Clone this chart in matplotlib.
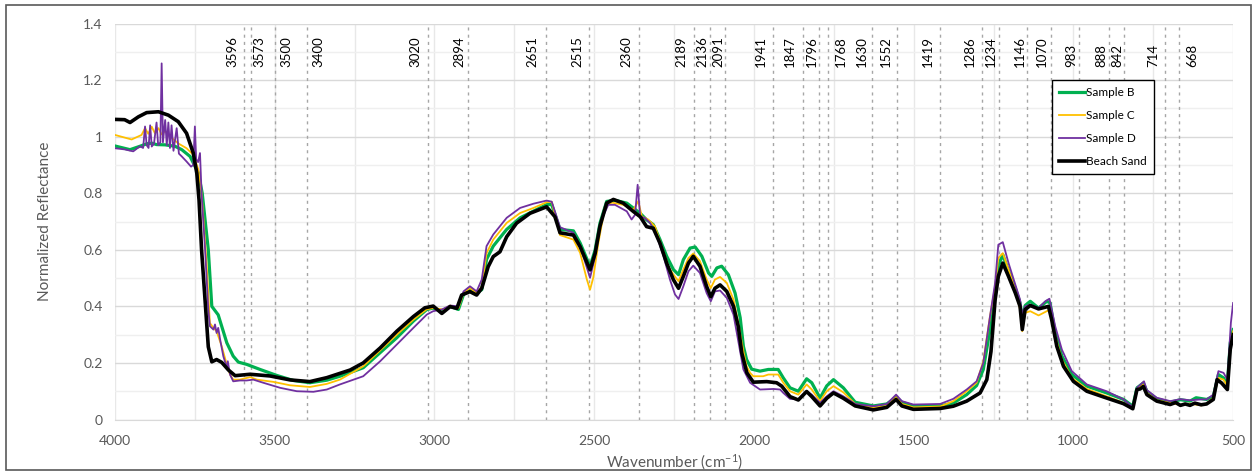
import matplotlib
matplotlib.use("Agg")
import matplotlib.pyplot as plt
from matplotlib.patches import Rectangle
from matplotlib.ticker import MultipleLocator, FuncFormatter

plt.rcParams["font.family"] = ["Lato", "DejaVu Sans"]
plt.rcParams["mathtext.fontset"] = "custom"
plt.rcParams["mathtext.rm"] = "Lato"
plt.rcParams["mathtext.default"] = "regular"

# ---- data ----
peak_marks = [3596, 3573, 3500, 3400, 3020, 2894, 2651, 2515, 2360, 2189, 2136,
              2091, 1941, 1847, 1796, 1768, 1630, 1552, 1419, 1286, 1234, 1146,
              1070, 983, 888, 842, 714, 668]
# where each label sits relative to its guide line (pixels, + = right)
label_shift = [-11.5, 7.6, 11.8, 11.9, -13, -9.3, -13.2, -11.7, -12.2, -12.5, -8.4,
               -6.5, -11.7, -12.7, -7.3, 12.8, -10.4, -11, -12.1, -11.9, -7.5, -7.3,
               -9.2, -8, -7.4, -6.4, -11.3, 12.4]

wn_b = [4000, 3953, 3922, 3900, 3885, 3870, 3843, 3812, 3791, 3765, 3739, 3727,
        3718, 3708, 3697, 3677, 3666, 3650, 3630, 3614, 3588, 3546, 3494, 3442,
        3390, 3337, 3296, 3223, 3118, 3066, 3024, 3004, 2977, 2951, 2925, 2909,
        2889, 2868, 2852, 2837, 2816, 2774, 2732, 2690, 2649, 2633, 2607, 2565,
        2544, 2513, 2497, 2482, 2461, 2435, 2398, 2356, 2336, 2315, 2294, 2273,
        2252, 2236, 2221, 2200, 2184, 2163, 2142, 2132, 2116, 2101, 2080, 2059,
        2043, 2033, 2023, 2007, 1981, 1955, 1924, 1908, 1887, 1861, 1835, 1819,
        1793, 1772, 1751, 1720, 1683, 1626, 1584, 1555, 1537, 1501, 1417, 1376,
        1334, 1303, 1282, 1261, 1245, 1235, 1221, 1203, 1182, 1167, 1160, 1151,
        1135, 1109, 1083, 1073, 1057, 1036, 1005, 958, 896, 843, 814, 801, 781,
        770, 739, 697, 665, 635, 616, 583, 562, 546, 530, 518, 509, 500]
sample_b = [0.967, 0.954, 0.966, 0.975, 0.977, 0.972, 0.971, 0.966, 0.954, 0.93,
            0.871, 0.8, 0.706, 0.6, 0.4, 0.37, 0.33, 0.271, 0.224, 0.203, 0.195,
            0.177, 0.156, 0.138, 0.13, 0.139, 0.153, 0.183, 0.289, 0.348, 0.389,
            0.394, 0.383, 0.4, 0.389, 0.442, 0.459, 0.447, 0.459, 0.566, 0.613,
            0.672, 0.713, 0.737, 0.76, 0.76, 0.672, 0.667, 0.624, 0.541, 0.6,
            0.694, 0.771, 0.775, 0.765, 0.729, 0.706, 0.689, 0.636, 0.577, 0.53,
            0.512, 0.565, 0.606, 0.61, 0.577, 0.518, 0.506, 0.536, 0.542, 0.512,
            0.447, 0.36, 0.259, 0.212, 0.178, 0.171, 0.177, 0.177, 0.147, 0.112,
            0.1, 0.144, 0.13, 0.076, 0.119, 0.141, 0.112, 0.061, 0.048, 0.055,
            0.079, 0.061, 0.048, 0.048, 0.058, 0.088, 0.12, 0.177, 0.318, 0.447,
            0.542, 0.583, 0.524, 0.465, 0.412, 0.353, 0.403, 0.418, 0.394, 0.418,
            0.412, 0.306, 0.224, 0.159, 0.118, 0.094, 0.071, 0.047, 0.112, 0.129,
            0.1, 0.073, 0.061, 0.07, 0.065, 0.077, 0.071, 0.082, 0.159, 0.147,
            0.124, 0.271, 0.318]

wn_c = [4000, 3948, 3917, 3906, 3896, 3885, 3875, 3864, 3854, 3843, 3833, 3802,
        3776, 3755, 3739, 3729, 3723, 3713, 3703, 3692, 3687, 3682, 3666, 3650,
        3640, 3630, 3609, 3577, 3556, 3504, 3452, 3390, 3337, 3296, 3223, 3118,
        3066, 3024, 3004, 2972, 2951, 2925, 2909, 2889, 2868, 2852, 2837, 2816,
        2774, 2732, 2690, 2649, 2633, 2607, 2565, 2544, 2523, 2513, 2503, 2487,
        2466, 2445, 2409, 2377, 2362, 2351, 2331, 2310, 2289, 2268, 2252, 2236,
        2221, 2205, 2190, 2169, 2148, 2135, 2122, 2106, 2085, 2064, 2049, 2033,
        2023, 2012, 2002, 1971, 1955, 1924, 1908, 1887, 1861, 1835, 1819, 1793,
        1772, 1751, 1720, 1683, 1626, 1584, 1555, 1537, 1501, 1417, 1376, 1334,
        1303, 1282, 1261, 1245, 1235, 1221, 1203, 1182, 1167, 1160, 1151, 1135,
        1109, 1083, 1073, 1057, 1036, 1005, 958, 896, 843, 814, 801, 781, 770,
        739, 697, 665, 635, 600, 583, 562, 546, 530, 518, 509, 500]
sample_c = [1.006, 0.99, 1.006, 1.03, 1.01, 1.035, 1.012, 1.03, 1.008, 1.02, 1.006,
            0.976, 0.959, 0.936, 0.883, 0.8, 0.706, 0.542, 0.341, 0.324, 0.318,
            0.312, 0.259, 0.194, 0.159, 0.141, 0.141, 0.15, 0.141, 0.133, 0.121,
            0.115, 0.126, 0.141, 0.188, 0.3, 0.353, 0.39, 0.394, 0.389, 0.403,
            0.394, 0.447, 0.465, 0.447, 0.47, 0.588, 0.636, 0.695, 0.73, 0.748,
            0.768, 0.77, 0.652, 0.636, 0.589, 0.495, 0.459, 0.501, 0.624, 0.753,
            0.767, 0.759, 0.742, 0.772, 0.718, 0.707, 0.683, 0.612, 0.542, 0.512,
            0.489, 0.53, 0.571, 0.587, 0.56, 0.495, 0.465, 0.495, 0.504, 0.483,
            0.424, 0.341, 0.241, 0.188, 0.165, 0.153, 0.153, 0.159, 0.159, 0.13,
            0.1, 0.088, 0.124, 0.106, 0.065, 0.1, 0.118, 0.096, 0.055, 0.042,
            0.048, 0.079, 0.055, 0.043, 0.046, 0.065, 0.1, 0.13, 0.206, 0.365,
            0.471, 0.571, 0.588, 0.53, 0.459, 0.389, 0.312, 0.377, 0.383, 0.368,
            0.383, 0.389, 0.295, 0.212, 0.147, 0.108, 0.082, 0.059, 0.041, 0.108,
            0.124, 0.094, 0.068, 0.059, 0.052, 0.056, 0.05, 0.056, 0.077, 0.147,
            0.141, 0.118, 0.27, 0.312]

wn_d = [4000, 3970, 3943, 3922, 3912, 3906, 3901, 3895, 3890, 3885, 3878, 3870,
        3865, 3858, 3854, 3850, 3843, 3838, 3833, 3828, 3823, 3817, 3807, 3800,
        3791, 3776, 3762, 3755, 3750, 3746, 3740, 3734, 3729, 3718, 3708, 3703,
        3692, 3687, 3682, 3677, 3671, 3661, 3650, 3647, 3640, 3630, 3609, 3588,
        3567, 3536, 3483, 3431, 3379, 3337, 3296, 3223, 3170, 3118, 3066, 3024,
        3004, 2977, 2951, 2925, 2909, 2889, 2868, 2852, 2837, 2816, 2774, 2732,
        2690, 2649, 2633, 2607, 2565, 2544, 2513, 2497, 2477, 2456, 2435, 2398,
        2383, 2372, 2364, 2356, 2341, 2325, 2304, 2283, 2263, 2247, 2236, 2221,
        2205, 2190, 2169, 2148, 2135, 2122, 2106, 2085, 2064, 2049, 2033, 2012,
        1981, 1939, 1918, 1908, 1887, 1861, 1835, 1819, 1793, 1772, 1751, 1720,
        1683, 1626, 1584, 1555, 1537, 1501, 1417, 1376, 1334, 1303, 1282, 1261,
        1245, 1235, 1221, 1203, 1182, 1167, 1160, 1151, 1135, 1109, 1088, 1075,
        1057, 1036, 1005, 958, 896, 843, 814, 801, 779, 770, 739, 697, 665, 635,
        600, 583, 562, 546, 530, 518, 507, 500]
sample_d = [0.959, 0.955, 0.948, 0.966, 0.96, 1.036, 0.97, 0.96, 1.04, 0.965,
            0.975, 1.05, 0.97, 0.98, 1.259, 0.98, 1.059, 0.97, 1.05, 0.96, 1.04,
            0.95, 1.03, 0.94, 0.93, 0.912, 0.894, 0.9, 1.036, 0.92, 0.91, 0.942,
            0.8, 0.6, 0.389, 0.33, 0.318, 0.336, 0.306, 0.324, 0.283, 0.224,
            0.183, 0.206, 0.159, 0.135, 0.138, 0.138, 0.141, 0.13, 0.112, 0.1,
            0.098, 0.106, 0.124, 0.153, 0.206, 0.265, 0.324, 0.371, 0.383, 0.389,
            0.403, 0.4, 0.453, 0.471, 0.453, 0.495, 0.613, 0.654, 0.713, 0.748,
            0.763, 0.774, 0.77, 0.68, 0.66, 0.612, 0.501, 0.577, 0.707, 0.759,
            0.759, 0.736, 0.707, 0.724, 0.83, 0.718, 0.712, 0.695, 0.648, 0.577,
            0.495, 0.442, 0.426, 0.471, 0.524, 0.544, 0.518, 0.447, 0.418, 0.453,
            0.456, 0.43, 0.371, 0.277, 0.177, 0.13, 0.106, 0.108, 0.106, 0.094,
            0.073, 0.071, 0.1, 0.088, 0.059, 0.082, 0.1, 0.082, 0.055, 0.047,
            0.055, 0.088, 0.065, 0.053, 0.055, 0.073, 0.106, 0.135, 0.2, 0.365,
            0.483, 0.618, 0.627, 0.553, 0.477, 0.424, 0.371, 0.4, 0.406, 0.394,
            0.418, 0.427, 0.33, 0.247, 0.171, 0.124, 0.1, 0.071, 0.044, 0.112,
            0.135, 0.104, 0.077, 0.065, 0.072, 0.068, 0.071, 0.071, 0.088, 0.171,
            0.165, 0.141, 0.342, 0.412]

wn_sand = [4000, 3970, 3953, 3927, 3901, 3864, 3833, 3802, 3776, 3755, 3744, 3737,
           3729, 3718, 3708, 3697, 3682, 3666, 3645, 3624, 3577, 3515, 3452, 3390,
           3337, 3296, 3264, 3223, 3170, 3118, 3066, 3030, 3004, 2977, 2951, 2930,
           2915, 2889, 2868, 2852, 2832, 2816, 2795, 2774, 2743, 2701, 2649, 2623,
           2607, 2565, 2544, 2513, 2497, 2482, 2461, 2440, 2409, 2377, 2356, 2336,
           2315, 2294, 2273, 2252, 2236, 2221, 2205, 2190, 2169, 2148, 2135, 2122,
           2106, 2085, 2064, 2049, 2038, 2022, 2002, 1960, 1929, 1913, 1887, 1861,
           1835, 1819, 1793, 1772, 1751, 1720, 1683, 1626, 1584, 1555, 1537, 1501,
           1417, 1376, 1334, 1292, 1271, 1258, 1245, 1235, 1221, 1203, 1182, 1167,
           1160, 1151, 1135, 1109, 1078, 1068, 1052, 1031, 1000, 958, 896, 843,
           814, 801, 791, 781, 770, 739, 697, 680, 665, 650, 635, 620, 600, 583,
           562, 550, 536, 518, 509, 500]
beach_sand = [1.061, 1.06, 1.05, 1.07, 1.085, 1.088, 1.076, 1.053, 1.012, 0.942,
              0.871, 0.776, 0.599, 0.422, 0.257, 0.204, 0.212, 0.202, 0.175, 0.155,
              0.16, 0.154, 0.14, 0.134, 0.148, 0.163, 0.175, 0.2, 0.253, 0.312,
              0.364, 0.395, 0.401, 0.375, 0.399, 0.393, 0.44, 0.452, 0.44, 0.464,
              0.54, 0.576, 0.593, 0.646, 0.694, 0.729, 0.752, 0.717, 0.66, 0.652,
              0.611, 0.529, 0.588, 0.683, 0.765, 0.778, 0.765, 0.735, 0.717, 0.682,
              0.676, 0.623, 0.552, 0.494, 0.464, 0.506, 0.553, 0.577, 0.542, 0.47,
              0.434, 0.464, 0.476, 0.453, 0.4, 0.329, 0.235, 0.165, 0.132, 0.134,
              0.13, 0.118, 0.081, 0.069, 0.099, 0.081, 0.048, 0.075, 0.094, 0.075,
              0.048, 0.034, 0.043, 0.071, 0.048, 0.036, 0.039, 0.047, 0.065, 0.094,
              0.141, 0.24, 0.423, 0.506, 0.553, 0.506, 0.448, 0.4, 0.318, 0.389,
              0.403, 0.391, 0.4, 0.353, 0.259, 0.188, 0.135, 0.1, 0.076, 0.056,
              0.038, 0.106, 0.108, 0.117, 0.088, 0.065, 0.053, 0.06, 0.05, 0.055,
              0.05, 0.058, 0.052, 0.055, 0.071, 0.141, 0.129, 0.106, 0.248, 0.3]

series = [
    ("Sample B", wn_b, sample_b, "#00B050", 2.3),
    ("Sample C", wn_c, sample_c, "#FFC000", 1.3),
    ("Sample D", wn_d, sample_d, "#7030A0", 1.3),
    ("Beach Sand", wn_sand, beach_sand, "#000000", 2.6),
]

DPI = 100
fig = plt.figure(figsize=(12.57, 4.72), dpi=DPI)
ax = fig.add_axes([0.0915, 0.1112, 0.8895, 0.839])

# peak guide lines + labels (label offsets given in pixels -> points)
for wn, shift in zip(peak_marks, label_shift):
    ax.axvline(wn, color="#a6a6a6", lw=1.0, ls=(0, (2.2, 3.0)), zorder=1)
    ax.annotate(str(wn), xy=(wn, 1.246), xytext=(shift * 72 / DPI, 0),
                textcoords="offset points", rotation=90, ha="center", va="bottom",
                fontsize=9.5, color="#000000")

for name, x, y, col, lw in series:
    ax.plot(x, y, color=col, lw=lw, label=name, solid_joinstyle="round", zorder=3)

ax.set_xlim(4000, 500)
ax.set_ylim(0, 1.4)
ax.xaxis.set_major_locator(MultipleLocator(500))
ax.xaxis.set_minor_locator(MultipleLocator(250))
ax.yaxis.set_major_locator(MultipleLocator(0.2))
ax.yaxis.set_minor_locator(MultipleLocator(0.1))
ax.yaxis.set_major_formatter(FuncFormatter(lambda v, p: f"{v:g}"))
ax.grid(True, which="major", axis="y", color="#d9d9d9", lw=1.0, zorder=0)
ax.grid(True, which="minor", axis="y", color="#efefef", lw=1.0, zorder=0)
ax.grid(True, which="both", axis="x", color="#e8e8e8", lw=1.0, zorder=0)
ax.set_axisbelow(True)
for s in ["top", "right", "left"]:
    ax.spines[s].set_visible(False)
ax.spines["bottom"].set_color("#d9d9d9")
ax.tick_params(which="both", length=0, labelsize=10, colors="#595959")
ax.tick_params(axis="x", pad=11)
ax.tick_params(axis="y", pad=9)

ax.set_xlabel("Wavenumber (cm$^{-1}$)", fontsize=11, color="#595959", labelpad=4)
ax.set_ylabel("Normalized Reflectance", fontsize=11, color="#595959", labelpad=22)

leg = ax.legend(loc="upper left", bbox_to_anchor=(0.838, 0.857), fontsize=8.5,
                frameon=True, fancybox=False, edgecolor="#000000", framealpha=1,
                handlelength=2.2, handletextpad=0.1, labelspacing=1.0,
                borderpad=0.6, borderaxespad=0)
leg.get_frame().set_linewidth(1.0)

fig.patches.append(Rectangle((0.005, 0.005), 0.99, 0.985, transform=fig.transFigure,
                             fill=False, edgecolor="#595959", lw=1.2))

fig.savefig("out.png", dpi=DPI)
